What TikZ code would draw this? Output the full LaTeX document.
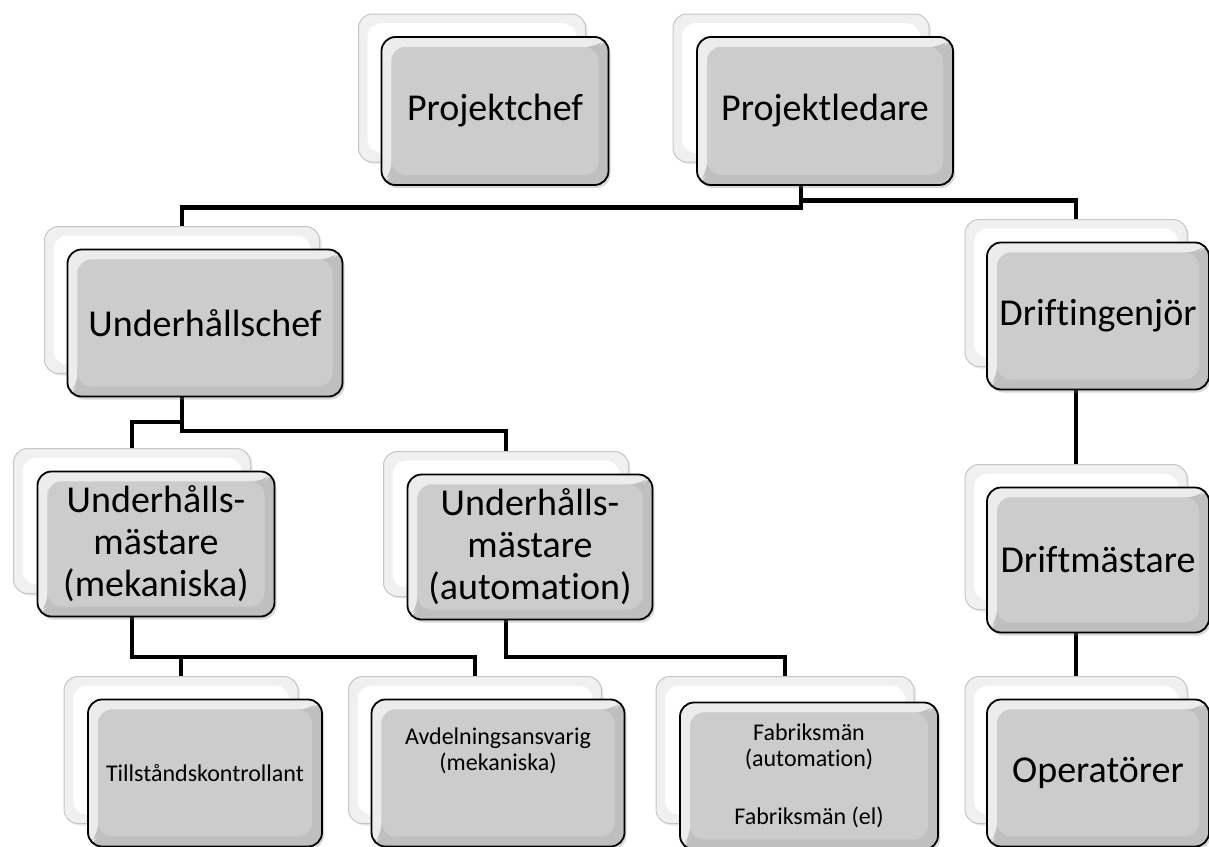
\documentclass[tikz,border=0pt]{standalone}
\usepackage{fontspec}
\setmainfont[Ligatures={NoCommon,NoContextual},Contextuals=NoAlternate]{Carlito}
\usetikzlibrary{shadows,backgrounds}

\begin{document}
\begin{tikzpicture}[
    x=1pt, y=-1pt,
    % box styles
    back box/.style={
        draw=gray!45,
        line width=1pt,
        fill=gray!12,
        rounded corners=14pt,
        drop shadow={opacity=0.18, shadow xshift=2pt, shadow yshift=-2pt},
        path picture={
            \fill[white] ([shift={(9pt,9pt)}]path picture bounding box.south west)
                rectangle ([shift={(-9pt,-9pt)}]path picture bounding box.north east);
        }
    },
    front box/.style={
        draw=black,
        line width=1.8pt,
        fill=gray!50,
        rounded corners=14pt,
        inner sep=0pt,
        align=center,
        drop shadow={opacity=0.3, shadow xshift=2pt, shadow yshift=-3pt},
        path picture={
            \fill[gray!15] (path picture bounding box.south west)
                -- (path picture bounding box.north west)
                -- (path picture bounding box.north east)
                -- ([shift={(-10pt,-10pt)}]path picture bounding box.north east)
                -- ([shift={(10pt,-10pt)}]path picture bounding box.north west)
                -- ([shift={(10pt,10pt)}]path picture bounding box.south west) -- cycle;
            \fill[gray!40] ([shift={(10pt,10pt)}]path picture bounding box.south west)
                rectangle ([shift={(-10pt,-10pt)}]path picture bounding box.north east);
        }
    },
    big label/.style={font=\fontsize{38}{42}\selectfont},
    small label/.style={font=\fontsize{24}{26}\selectfont},
    conn/.style={black, line width=4.5pt}
]

    \useasboundingbox (0,0) rectangle (1209,846);

    % --- TOP ROW ---
    \node[back box, minimum width=227, minimum height=148] (chef-b) at (472,88) {};
    \node[front box, big label, minimum width=227, minimum height=148] (chef) at (495,111) {Projektchef};

    \node[back box, minimum width=256, minimum height=148] (ledare-b) at (801,88) {};
    \node[front box, big label, minimum width=256, minimum height=148] (ledare) at (825,111) {Projektledare};

    % --- SECOND ROW ---
    \node[back box, minimum width=275, minimum height=147] (uhchef-b) at (182,300) {};
    \node[front box, big label, minimum width=275, minimum height=147] (uhchef) at (205,323) {Underhållschef};

    \node[back box, minimum width=222, minimum height=147] (drift-b) at (1076,293) {};
    \node[front box, big label, minimum width=222, minimum height=147] (drift) at (1098,316) {Driftingenjör};

    % --- THIRD ROW ---
    \node[back box, minimum width=237, minimum height=145] (uhmek-b) at (132,521) {};
    \node[front box, big label, minimum width=237, minimum height=145] (uhmek) at (156,544) {Underhålls-\\mästare\\(mekaniska)};

    \node[back box, minimum width=245, minimum height=145] (uhaut-b) at (506,524) {};
    \node[front box, big label, minimum width=245, minimum height=145] (uhaut) at (530,547) {Underhålls-\\mästare\\(automation)};

    \node[back box, minimum width=222, minimum height=145] (driftm-b) at (1076,537) {};
    \node[front box, big label, minimum width=222, minimum height=145] (driftm) at (1098,560) {Driftmästare};

    % --- BOTTOM ROW ---
    \node[back box, minimum width=234, minimum height=147] (tillst-b) at (181,750) {};
    \node[front box, small label, minimum width=234, minimum height=147] (tillst) at (205,773) {Tillståndskontrollant};

    \node[back box, minimum width=253, minimum height=147] (avdeln-b) at (475,750) {};
    \node[front box, small label, minimum width=253, minimum height=147] (avdeln) at (498,773) {Avdelningsansvarig\\(mekaniska)\\[22pt]\mbox{}};

    \node[back box, minimum width=258, minimum height=147] (fabrik-b) at (785,750) {};
    \node[front box, small label, minimum width=258, minimum height=147] (fabrik) at (809,776) {Fabriksmän\\(automation)\\[32pt]Fabriksmän (el)};

    \node[back box, minimum width=222, minimum height=147] (oper-b) at (1076,750) {};
    \node[front box, big label, minimum width=222, minimum height=147] (oper) at (1098,773) {Operatörer};

    % --- CONNECTORS (behind the boxes) ---
    \begin{pgfonlayer}{background}
        \draw[conn] (ledare-b.south) -- ++(0,45) -| (uhchef-b.north);
        \draw[conn] (ledare-b.south) -- ++(0,38) -| (drift-b.north);

        \draw[conn] (uhchef-b.south) -- ++(0,48) -| (uhmek-b.north);
        \draw[conn] (uhchef-b.south) -- ++(0,57) -| (uhaut-b.north);

        \draw[conn] (uhmek-b.south) -- ++(0,63) -| (tillst-b.north);
        \draw[conn] (uhmek-b.south) -- ++(0,63) -| (avdeln-b.north);
        \draw[conn] (uhaut-b.south) -- ++(0,60) -| (fabrik-b.north);

        \draw[conn] (drift-b.south) -- (driftm-b.north);
        \draw[conn] (driftm-b.south) -- (oper-b.north);
    \end{pgfonlayer}

\end{tikzpicture}
\end{document}
